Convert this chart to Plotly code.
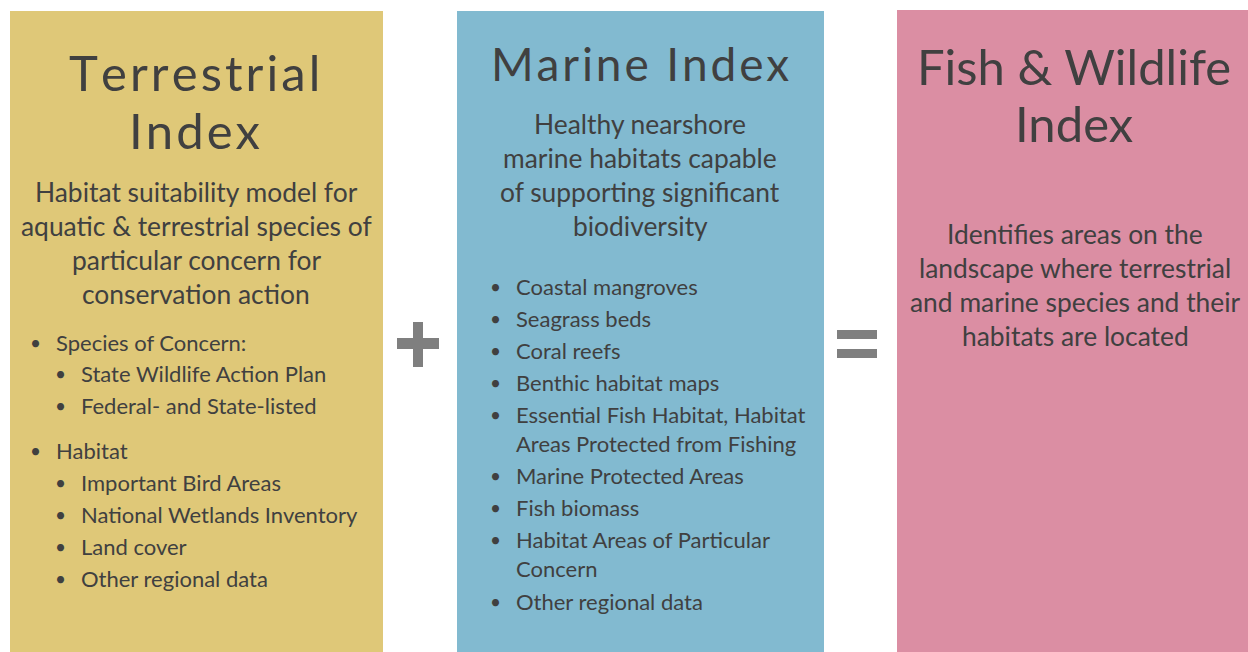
import plotly.graph_objects as go

W, H = 1248, 652
FONT = "Lato"
TXT = "#404040"
OPGRAY = "#7F7F7F"

# ---- content ----
panel_titles = [["Terrestrial", "Index"], ["Marine Index"], ["Fish & Wildlife", "Index"]]
panel_colors = ["#DFC878", "#82BAD0", "#DB8EA3"]
panel_desc = [
    ["Habitat suitability model for", "aquatic & terrestrial species of",
     "particular concern for", "conservation action"],
    ["Healthy nearshore", "marine habitats capable",
     "of supporting significant", "biodiversity"],
    ["Identifies areas on the", "landscape where terrestrial",
     "and marine species and their", "habitats are located"],
]
# (level, text, y)
terr_bullets = [
    (1, "Species of Concern:", 342),
    (2, "State Wildlife Action Plan", 373),
    (2, "Federal- and State-listed", 405),
    (1, "Habitat", 450),
    (2, "Important Bird Areas", 482),
    (2, "National Wetlands Inventory", 514),
    (2, "Land cover", 546),
    (2, "Other regional data", 578),
]
marine_bullets = [
    (True, "Coastal mangroves", 286),
    (True, "Seagrass beds", 318),
    (True, "Coral reefs", 350),
    (True, "Benthic habitat maps", 382),
    (True, "Essential Fish Habitat, Habitat", 414),
    (False, "Areas Protected from Fishing", 443),
    (True, "Marine Protected Areas", 475),
    (True, "Fish biomass", 507),
    (True, "Habitat Areas of Particular", 539),
    (False, "Concern", 568),
    (True, "Other regional data", 601),
]

# ---- layout geometry ----
boxes = [(10, 383, 11), (457, 824, 11), (897, 1248, 10)]
title_y = [[72, 130], [63], [66, 123]]
title_size = [49, 46, 49]
title_cx = [194, 640, 1074]
desc_y0 = [192, 124, 234]
desc_cx = [196, 640, 1075]
desc_size = 26.4
LINE = 34
BUL_SIZE = 22

fig = go.Figure()
shapes = []
ann = []

def spaced(s, sp):
    return sp.join(list(s)) if sp else s

for i, (x0, x1, y0) in enumerate(boxes):
    shapes.append(dict(type="rect", xref="x", yref="y", x0=x0, x1=x1, y0=y0, y1=H,
                       fillcolor=panel_colors[i], line=dict(width=0), layer="below"))
    sp = "\u200a" if i < 2 else ""
    for t, ty in zip(panel_titles[i], title_y[i]):
        ann.append(dict(x=title_cx[i], y=ty, text=spaced(t, sp), showarrow=False,
                        xanchor="center", yanchor="middle",
                        font=dict(family=FONT, size=title_size[i], color=TXT)))
    for k, line in enumerate(panel_desc[i]):
        ann.append(dict(x=desc_cx[i], y=desc_y0[i] + k * LINE, text=line, showarrow=False,
                        xanchor="center", yanchor="middle",
                        font=dict(family=FONT, size=desc_size, color=TXT)))

for lvl, t, y in terr_bullets:
    bx = 35 if lvl == 1 else 60
    tx = 54 if lvl == 1 else 79
    ann.append(dict(x=bx, y=y, text="•", showarrow=False, xanchor="center", yanchor="middle",
                    font=dict(family=FONT, size=19, color=TXT)))
    ann.append(dict(x=tx, y=y, text=t, showarrow=False, xanchor="left", yanchor="middle",
                    font=dict(family=FONT, size=BUL_SIZE, color=TXT)))

for b, t, y in marine_bullets:
    if b:
        ann.append(dict(x=495, y=y, text="•", showarrow=False, xanchor="center", yanchor="middle",
                        font=dict(family=FONT, size=19, color=TXT)))
    ann.append(dict(x=514, y=y, text=t, showarrow=False, xanchor="left", yanchor="middle",
                    font=dict(family=FONT, size=BUL_SIZE, color=TXT)))

# plus sign
shapes.append(dict(type="rect", xref="x", yref="y", x0=397, x1=439, y0=338, y1=349,
                   fillcolor=OPGRAY, line=dict(width=0)))
shapes.append(dict(type="rect", xref="x", yref="y", x0=413, x1=423, y0=322, y1=367,
                   fillcolor=OPGRAY, line=dict(width=0)))
# equals sign
shapes.append(dict(type="rect", xref="x", yref="y", x0=837, x1=877, y0=330, y1=339,
                   fillcolor=OPGRAY, line=dict(width=0)))
shapes.append(dict(type="rect", xref="x", yref="y", x0=837, x1=877, y0=349, y1=358,
                   fillcolor=OPGRAY, line=dict(width=0)))

fig.update_layout(
    width=W, height=H, margin=dict(l=0, r=0, t=0, b=0),
    paper_bgcolor="white", plot_bgcolor="white",
    xaxis=dict(range=[0, W], visible=False, fixedrange=True),
    yaxis=dict(range=[H, 0], visible=False, fixedrange=True),
    shapes=shapes, annotations=ann, showlegend=False,
)
fig.write_html("out.html", config={"displayModeBar": False},
               post_script="document.body.style.margin='0';document.body.style.overflow='hidden';")
